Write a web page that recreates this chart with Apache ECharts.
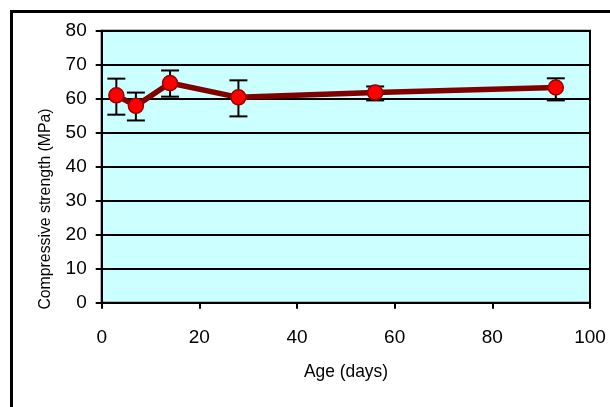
<!DOCTYPE html>
<html>
<head>
<meta charset="utf-8">
<script src="https://cdn.jsdelivr.net/npm/echarts@6/dist/echarts.min.js"></script>
<style>html,body{margin:0;padding:0;background:#fff;}#c{width:610px;height:407px;}</style>
</head>
<body>
<div id="c"></div>
<script>
var ages = [3, 7, 14, 28, 56, 93];
var strength = [61.0, 57.9, 64.6, 60.4, 61.8, 63.3];
var errLow = [55.3, 53.6, 60.6, 54.8, 59.5, 59.5];
var errHigh = [65.9, 61.8, 68.3, 65.4, 63.6, 66.0];
var xTicks = [0, 20, 40, 60, 80, 100];
var yTicks = [0, 10, 20, 30, 40, 50, 60, 70, 80];

var chart = echarts.init(document.getElementById('c'), null, {renderer: 'canvas'});
var lineData = ages.map(function (a, i) { return [a, strength[i]]; });
var errData = ages.map(function (a, i) { return [a, errLow[i], errHigh[i]]; });
var tickFont = {color: '#000', fontSize: 19, fontFamily: 'Liberation Sans, Arial, sans-serif'};

chart.setOption({
  animation: false,
  backgroundColor: '#fff',
  grid: {left: 101.7, top: 30.7, right: 20, bottom: 104.3, show: true,
         backgroundColor: '#CCFFFF', borderColor: '#000', borderWidth: 2},
  xAxis: {
    type: 'value', min: xTicks[0], max: xTicks[xTicks.length - 1], interval: 20,
    axisLine: {show: true, onZero: false, lineStyle: {color: '#000', width: 2}},
    axisTick: {show: true, inside: false, length: 6, lineStyle: {color: '#000', width: 2}},
    axisLabel: Object.assign({margin: 26}, tickFont),
    splitLine: {show: false}
  },
  yAxis: {
    type: 'value', min: yTicks[0], max: yTicks[yTicks.length - 1], interval: 10,
    axisLine: {show: true, onZero: false, lineStyle: {color: '#000', width: 2}},
    axisTick: {show: true, inside: false, length: 6, lineStyle: {color: '#000', width: 2}},
    axisLabel: Object.assign({margin: 15}, tickFont),
    splitLine: {show: true, lineStyle: {color: '#000', width: 2}}
  },
  graphic: [
    {type: 'rect', shape: {x: 11.5, y: 11.5, width: 620, height: 420}, silent: true, z: -10,
     style: {fill: 'none', stroke: '#000', lineWidth: 3}},
    {type: 'text', x: 45, y: 209, rotation: Math.PI / 2, scaleX: 0.93, silent: true,
     style: {text: 'Compressive strength (MPa)', fill: '#000', fontSize: 17,
             fontFamily: 'Liberation Sans, Arial, sans-serif',
             align: 'center', verticalAlign: 'middle'}},
    {type: 'text', x: 346, y: 372, scaleX: 0.94, silent: true,
     style: {text: 'Age (days)', fill: '#000', fontSize: 18.5,
             fontFamily: 'Liberation Sans, Arial, sans-serif',
             align: 'center', verticalAlign: 'middle'}}
  ],
  series: [
    {
      type: 'custom', z: 2, data: errData,
      renderItem: function (params, api) {
        var x = api.value(0);
        var lo = api.coord([x, api.value(1)]);
        var hi = api.coord([x, api.value(2)]);
        var w = 9;
        var st = {stroke: '#000', lineWidth: 2};
        return {type: 'group', children: [
          {type: 'line', shape: {x1: lo[0], y1: lo[1], x2: hi[0], y2: hi[1]}, style: st},
          {type: 'line', shape: {x1: lo[0] - w, y1: lo[1], x2: lo[0] + w, y2: lo[1]}, style: st},
          {type: 'line', shape: {x1: hi[0] - w, y1: hi[1], x2: hi[0] + w, y2: hi[1]}, style: st}
        ]};
      }
    },
    {
      type: 'line', z: 3, data: lineData,
      lineStyle: {color: '#800000', width: 5.5},
      symbol: 'circle', symbolSize: 15,
      itemStyle: {color: '#FF0000', borderColor: '#990000', borderWidth: 1.5}
    }
  ]
});
</script>
</body>
</html>
